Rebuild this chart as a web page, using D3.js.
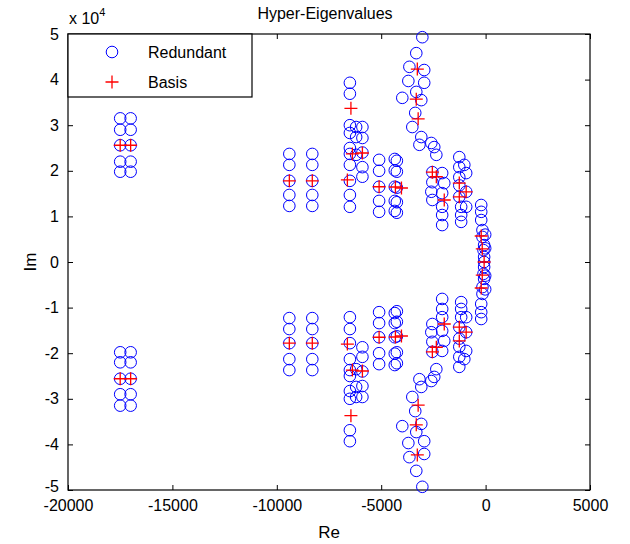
<html>
<head>
    <title>Hyper-Eigenvalues</title>
    <style>
        body { margin: 0; background: #fff; }
        #chart { width: 630px; height: 544px; }
        text { font-family: "Liberation Sans", Arial, sans-serif; }
    </style>
</head>
<body>
<div id="chart"></div>
</body>
<script src="https://d3js.org/d3.v7.min.js"></script>
<script>

  const width = 630;
  const height = 544;

  // tick labels
  const xTicks = [-20000, -15000, -10000, -5000, 0, 5000];
  const yTicks = [-50000, -40000, -30000, -20000, -10000, 0, 10000, 20000, 30000, 40000, 50000];

  // redundant eigenvalues [Re, Im], upper half plane
  const redundantUpper = [
    [-17500, 31500], [-17500, 29000], [-17500, 25600], [-17500, 22000], [-17500, 19800],
    [-17000, 31500], [-17000, 29000], [-17000, 25600], [-17000, 22000], [-17000, 19800],
    [-9400, 23700], [-9400, 21300], [-9400, 17800], [-9400, 14700], [-9400, 12300],
    [-8300, 23700], [-8300, 21300], [-8300, 17800], [-8300, 14700], [-8300, 12300],
    [-6500, 39300], [-6500, 36900], [-6500, 30000], [-6500, 28300], [-6500, 25000],
    [-6500, 23700], [-6500, 21300], [-6500, 17800], [-6500, 14700], [-6500, 12100],
    [-6200, 29600], [-6200, 27400], [-6200, 23500],
    [-5900, 29600], [-5900, 27200], [-5900, 24000], [-5900, 20800], [-5900, 18700],
    [-5100, 22400], [-5100, 20000], [-5100, 16500], [-5100, 13400], [-5100, 11000],
    [-4350, 22600], [-4250, 22200], [-4350, 20100], [-4250, 19800], [-4350, 16500],
    [-4250, 16300], [-4350, 13400], [-4250, 13100], [-4350, 11200], [-4250, 10800],
    [-3030, 49300], [-3320, 45800], [-3650, 42800], [-2940, 42100], [-3700, 39700],
    [-2940, 39300], [-3990, 36000], [-3320, 37300], [-3080, 35500], [-3370, 32700],
    [-3510, 29600], [-3080, 27400], [-3170, 25700], [-2600, 26100], [-2460, 25200],
    [-2360, 23500], [-2550, 19700], [-2550, 17500], [-2600, 15400], [-2550, 13600],
    [-2080, 19500], [-1980, 17300], [-2080, 15100], [-2080, 12100], [-2080, 10300], [-2080, 8100],
    [-1260, 23000], [-1260, 20800], [-1020, 21300], [-930, 19500], [-1260, 18600], [-1260, 16800],
    [-930, 15400], [-1260, 14300], [-1170, 12100], [-930, 12100], [-1170, 10300], [-1170, 8800],
    [-210, 12500], [-210, 11000], [-210, 9200], [-150, 7000], [-20, 6000], [-150, 5500],
    [-70, 3700], [-20, 3000], [-100, 2600], [-70, 1100], [-70, 0]
  ];

  // redundant eigenvalues [Re, Im], lower half plane
  const redundantLower = [
    [-17500, -31500], [-17500, -29000], [-17500, -25600], [-17500, -22000], [-17500, -19800],
    [-17000, -31500], [-17000, -29000], [-17000, -25600], [-17000, -22000], [-17000, -19800],
    [-9400, -23700], [-9400, -21300], [-9400, -17800], [-9400, -14700], [-9400, -12300],
    [-8300, -23700], [-8300, -21300], [-8300, -17800], [-8300, -14700], [-8300, -12300],
    [-6500, -39300], [-6500, -36900], [-6500, -30000], [-6500, -28300], [-6500, -25000],
    [-6500, -23700], [-6500, -21300], [-6500, -17800], [-6500, -14700], [-6500, -12100],
    [-6200, -29600], [-6200, -27400], [-6200, -23500],
    [-5900, -29600], [-5900, -27200], [-5900, -24000], [-5900, -20800], [-5900, -18700],
    [-5100, -22400], [-5100, -20000], [-5100, -16500], [-5100, -13400], [-5100, -11000],
    [-4350, -22600], [-4250, -22200], [-4350, -20100], [-4250, -19800], [-4350, -16500],
    [-4250, -16300], [-4350, -13400], [-4250, -13100], [-4350, -11200], [-4250, -10800],
    [-3030, -49300], [-3320, -45800], [-3650, -42800], [-2940, -42100], [-3700, -39700],
    [-2940, -39300], [-3990, -36000], [-3320, -37300], [-3080, -35500], [-3370, -32700],
    [-3510, -29600], [-3080, -27400], [-3170, -25700], [-2600, -26100], [-2460, -25200],
    [-2360, -23500], [-2550, -19700], [-2550, -17500], [-2600, -15400], [-2550, -13600],
    [-2080, -19500], [-1980, -17300], [-2080, -15100], [-2080, -12100], [-2080, -10300], [-2080, -8100],
    [-1260, -23000], [-1260, -20800], [-1020, -21300], [-930, -19500], [-1260, -18600], [-1260, -16800],
    [-930, -15400], [-1260, -14300], [-1170, -12100], [-930, -12100], [-1170, -10300], [-1170, -8800],
    [-210, -12500], [-210, -11000], [-210, -9200], [-150, -7000], [-20, -6000], [-150, -5500],
    [-70, -3700], [-20, -3000], [-100, -2600], [-70, -1100]
  ];

  // basis eigenvalues [Re, Im]
  const basisUpper = [
    [-17500, 25600], [-17000, 25600], [-9400, 17800], [-8300, 17800],
    [-6450, 33700], [-6380, 23700], [-5900, 23900], [-6620, 18000],
    [-5100, 16500], [-4320, 16450], [-4030, 16230],
    [-3270, 42300], [-3320, 35700], [-3230, 31400],
    [-2550, 19700], [-2360, 18700], [-1980, 13600],
    [-1260, 17300], [-930, 15400], [-1260, 14300],
    [-210, 5700], [-160, 2900], [-70, 0]
  ];
  const basisLower = [
    [-17500, -25600], [-17000, -25600], [-9400, -17800], [-8300, -17800],
    [-6450, -33700], [-6380, -23700], [-5900, -23900], [-6620, -18000],
    [-5100, -16500], [-4320, -16450], [-4030, -16230],
    [-3270, -42300], [-3320, -35700], [-3230, -31400],
    [-2550, -19700], [-2360, -18700], [-1980, -13600],
    [-1260, -17300], [-930, -15400], [-1260, -14300],
    [-210, -5700], [-160, -2900]
  ];

  const redundant = redundantUpper.concat(redundantLower);
  const basis = basisUpper.concat(basisLower);

  const mLeft = 68, mRight = 590, mTop = 34, mBottom = 490;

  const svg = d3.select('#chart')
    .append('svg')
    .attr('width', width)
    .attr('height', height);

  const xScale = d3.scaleLinear().domain([-20000, 5000]).range([mLeft, mRight]);
  const yScale = d3.scaleLinear().domain([-50000, 50000]).range([mBottom, mTop]);

  // axes, ticks pointing inward like matlab
  const xAxis = d3.axisBottom(xScale).tickValues(xTicks).tickSizeInner(-5).tickSizeOuter(0)
    .tickPadding(10).tickFormat(d => String(d));
  const yAxis = d3.axisLeft(yScale).tickValues(yTicks).tickSizeInner(-5).tickSizeOuter(0)
    .tickPadding(9).tickFormat(d => String(d / 10000));
  const xTop = d3.axisTop(xScale).tickValues(xTicks).tickSizeInner(-5).tickSizeOuter(0).tickFormat('');
  const yRight = d3.axisRight(yScale).tickValues(yTicks).tickSizeInner(-5).tickSizeOuter(0).tickFormat('');

  const gx = svg.append('g').attr('transform', `translate(0, ${mBottom})`).call(xAxis);
  const gy = svg.append('g').attr('transform', `translate(${mLeft}, 0)`).call(yAxis);
  const gt = svg.append('g').attr('transform', `translate(0, ${mTop})`).call(xTop);
  const gr = svg.append('g').attr('transform', `translate(${mRight}, 0)`).call(yRight);

  [gx, gy, gt, gr].forEach(g => {
    g.select('.domain').remove();
    g.selectAll('line').attr('stroke', '#000');
    g.selectAll('text').attr('fill', '#000').style('font-size', '16px')
      .style('font-family', '"Liberation Sans", Arial, sans-serif');
  });
  // lowest y label sits a bit higher so it clears the -20000 label
  gy.selectAll('.tick text').filter(d => d === -50000).attr('dy', '0.1em');

  // box
  svg.append('rect')
    .attr('x', mLeft).attr('y', mTop)
    .attr('width', mRight - mLeft).attr('height', mBottom - mTop)
    .attr('fill', 'none').attr('stroke', '#000').attr('stroke-width', 1.2);

  // redundant circles
  const rad = 5.8;
  svg.append('g')
    .selectAll('circle')
    .data(redundant)
    .join('circle')
    .attr('cx', d => xScale(d[0]))
    .attr('cy', d => yScale(d[1]))
    .attr('r', rad)
    .attr('fill', 'none')
    .attr('stroke', '#0000ff')
    .attr('stroke-width', 1);

  // basis pluses
  const plus = 6.5;
  svg.append('g')
    .selectAll('path')
    .data(basis)
    .join('path')
    .attr('d', d => {
      const cx = xScale(d[0]), cy = yScale(d[1]);
      return `M${cx - plus},${cy}H${cx + plus}M${cx},${cy - plus}V${cy + plus}`;
    })
    .attr('fill', 'none')
    .attr('stroke', '#ff0000')
    .attr('stroke-width', 1.3);

  // legend
  const legend = svg.append('g');
  legend.append('rect')
    .attr('x', mLeft).attr('y', mTop)
    .attr('width', 184).attr('height', 63)
    .attr('fill', '#fff').attr('stroke', '#000').attr('stroke-width', 1.2);
  legend.append('circle')
    .attr('cx', 112).attr('cy', 52).attr('r', rad)
    .attr('fill', 'none').attr('stroke', '#0000ff');
  legend.append('path')
    .attr('d', `M${112 - plus},82H${112 + plus}M112,${82 - plus}V${82 + plus}`)
    .attr('stroke', '#ff0000').attr('stroke-width', 1.3);
  legend.append('text').attr('x', 148).attr('y', 58).style('font-size', '16px').text('Redundant');
  legend.append('text').attr('x', 148).attr('y', 88).style('font-size', '16px').text('Basis');

  // title and labels
  svg.append('text').attr('x', 325).attr('y', 19)
    .attr('text-anchor', 'middle').style('font-size', '16px').text('Hyper-Eigenvalues');
  const mult = svg.append('text').attr('x', mLeft + 1).attr('y', 24).style('font-size', '16px');
  mult.append('tspan').text('x 10');
  mult.append('tspan').attr('dy', -8).style('font-size', '11px').text('4');
  svg.append('text').attr('x', (mLeft + mRight) / 2).attr('y', 538)
    .attr('text-anchor', 'middle').style('font-size', '17px').text('Re');
  svg.append('text').attr('transform', `translate(36, ${(mTop + mBottom) / 2}) rotate(-90)`)
    .attr('text-anchor', 'middle').style('font-size', '17px').text('Im');

</script>
</html>
